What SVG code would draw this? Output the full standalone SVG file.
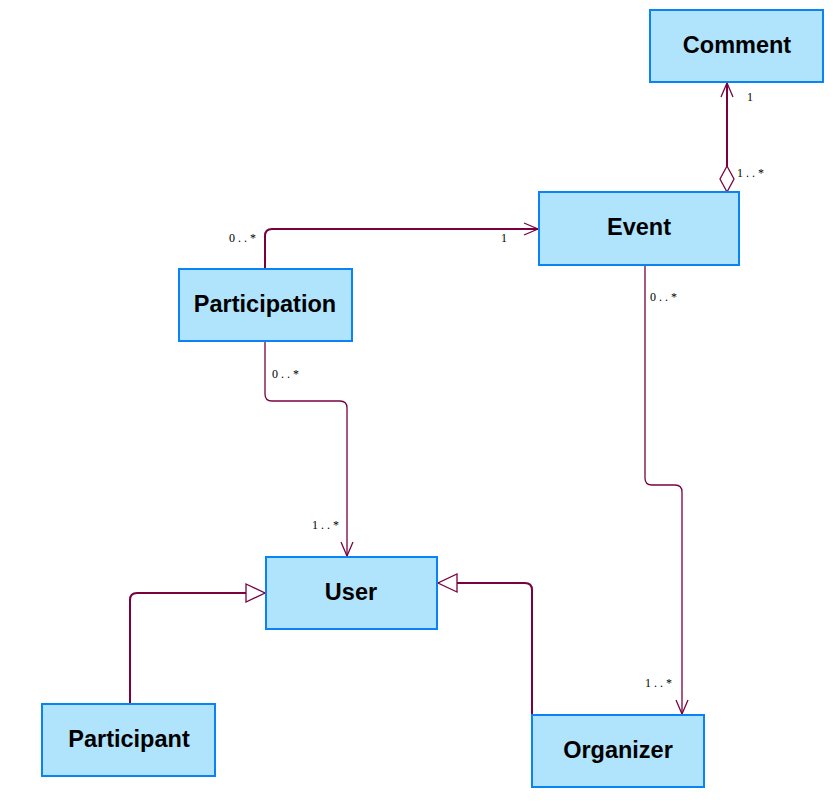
<svg xmlns="http://www.w3.org/2000/svg" width="836" height="812" viewBox="0 0 836 812">
<style>
.box{fill:#b0e4fd;stroke:#0a84f4;stroke-width:2}
.name{font-family:"Liberation Sans",Arial,sans-serif;font-weight:bold;font-size:23.5px;fill:#000;text-anchor:middle}
.ln{fill:none;stroke:#7a0040;stroke-width:2}
.thin{stroke-width:1.3}
.lbl{font-family:"Liberation Serif","DejaVu Serif",serif;font-size:12px;fill:#000;letter-spacing:3px}
</style>
<defs>
<marker id="open" markerWidth="16" markerHeight="14" refX="15" refY="7" orient="auto" markerUnits="userSpaceOnUse">
<path d="M1,1 L15,7 L1,13" fill="none" stroke="#7a0040" stroke-width="1.3"/>
</marker>
<marker id="tri" markerWidth="22" markerHeight="20" refX="20" refY="10" orient="auto" markerUnits="userSpaceOnUse">
<path d="M1,1 L20,10 L1,19 Z" fill="#fff" stroke="#7a0040" stroke-width="1.3"/>
</marker>
<marker id="dia" markerWidth="30" markerHeight="16" refX="1" refY="8" orient="auto" markerUnits="userSpaceOnUse">
<path d="M1,8 L14,1 L27,8 L14,15 Z" fill="#fff" stroke="#7a0040" stroke-width="1.3"/>
</marker>
</defs>
<g id="connectors">
<path class="ln" d="M727,192 L727,83" marker-start="url(#dia)" marker-end="url(#open)"/>
<path class="ln" d="M265,269 L265,236 Q265,229 272,229 L538,229" marker-end="url(#open)"/>
<path class="ln thin" d="M265,341 L265,394 Q265,401 272,401 L340,401 Q347,401 347,408 L347,556" marker-end="url(#open)"/>
<path class="ln thin" d="M645,265 L645,478 Q645,485 652,485 L675,485 Q682,485 682,492 L682,714" marker-end="url(#open)"/>
<path class="ln" d="M130,704 L130,600 Q130,593 137,593 L265,593" marker-end="url(#tri)"/>
<path class="ln" d="M532,715 L532,590 Q532,583 525,583 L438,583" marker-end="url(#tri)"/>
<text class="lbl" x="747" y="101">1</text>
<text class="lbl" x="737" y="177">1..*</text>
<text class="lbl" x="229" y="242">0..*</text>
<text class="lbl" x="501" y="242">1</text>
<text class="lbl" x="272" y="378">0..*</text>
<text class="lbl" x="312" y="529">1..*</text>
<text class="lbl" x="650" y="301">0..*</text>
<text class="lbl" x="645" y="687">1..*</text>
</g>
<g id="comment"><rect class="box" x="650" y="10" width="173" height="72"/><text class="name" x="737" y="53">Comment</text></g>
<g id="event"><rect class="box" x="539" y="192" width="200" height="73"/><text class="name" x="639" y="235">Event</text></g>
<g id="participation"><rect class="box" x="179" y="269" width="173" height="72"/><text class="name" x="265" y="312">Participation</text></g>
<g id="user"><rect class="box" x="266" y="557" width="171" height="72"/><text class="name" x="351" y="600">User</text></g>
<g id="participant"><rect class="box" x="42" y="704" width="173" height="72"/><text class="name" x="129" y="747">Participant</text></g>
<g id="organizer"><rect class="box" x="532" y="715" width="172" height="72"/><text class="name" x="618" y="758">Organizer</text></g>
</svg>
